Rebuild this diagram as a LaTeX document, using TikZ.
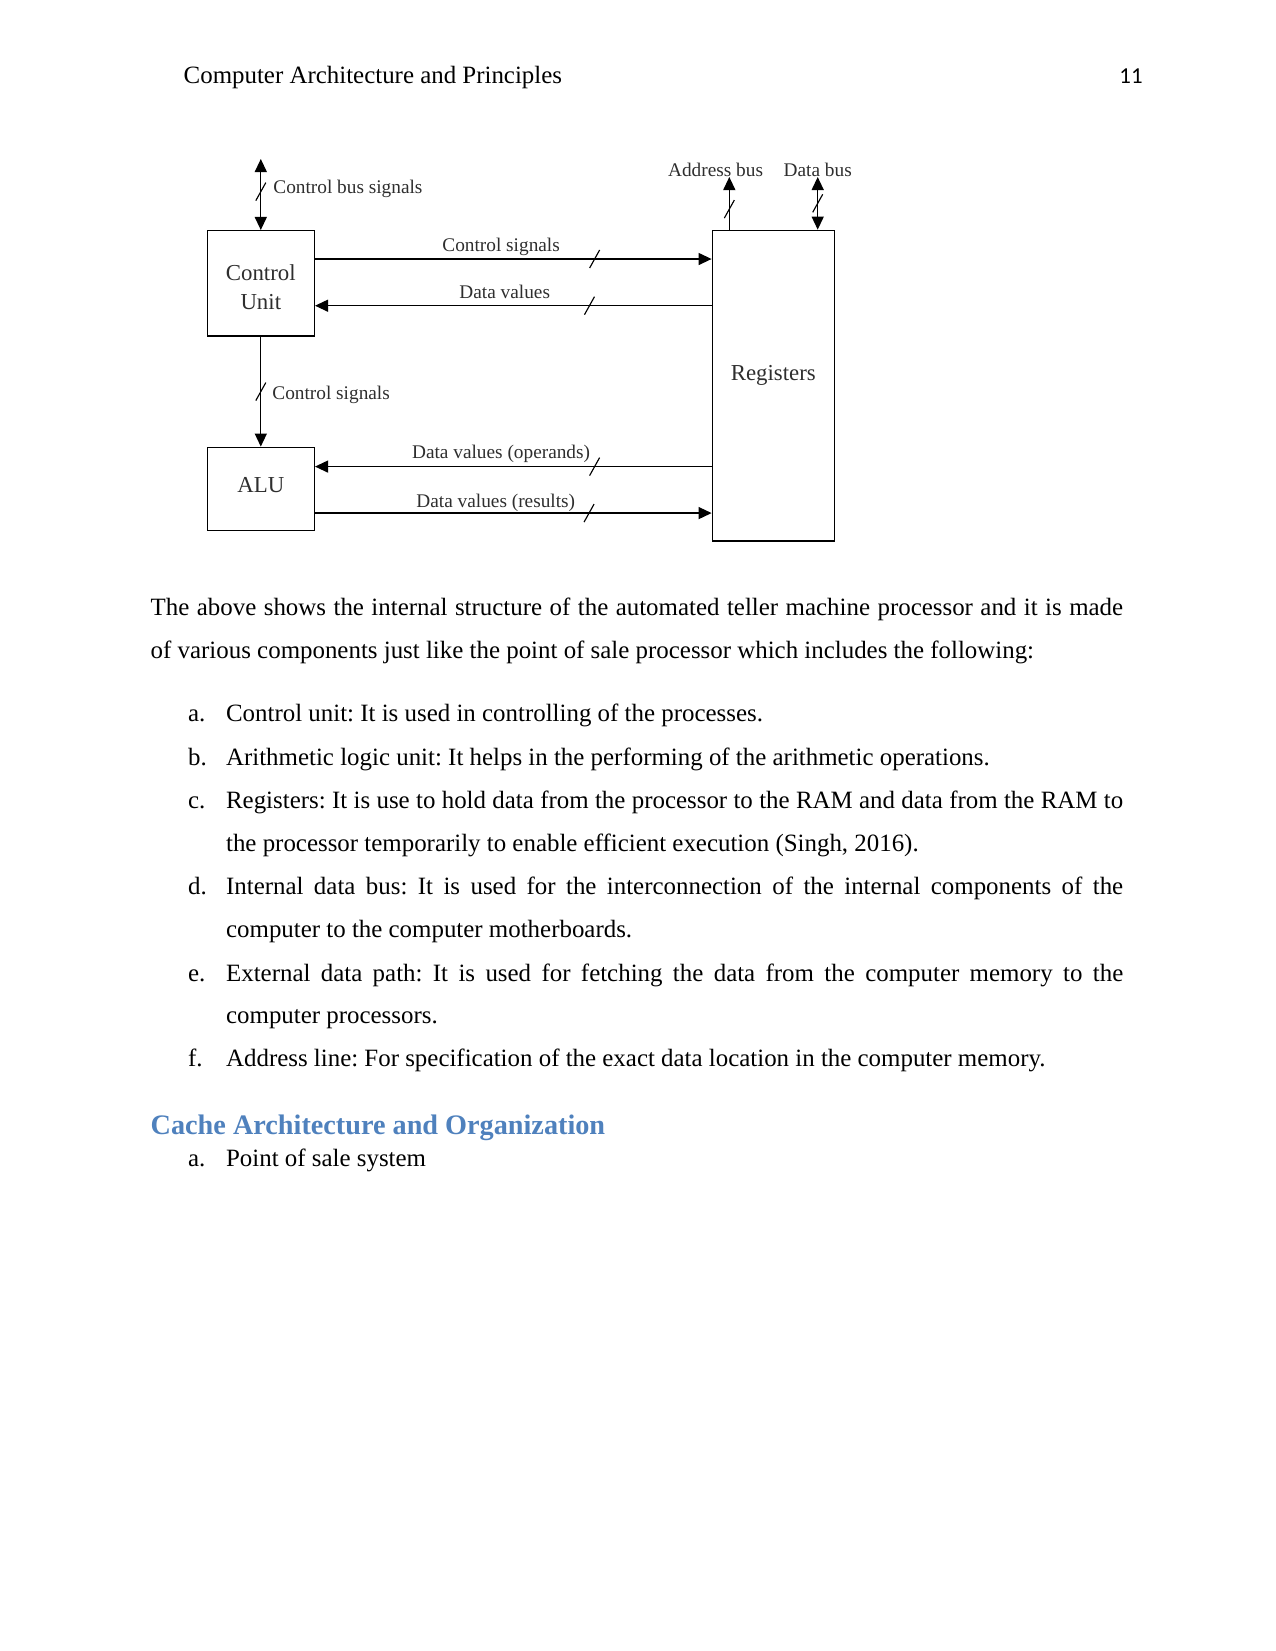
\documentclass[tikz,border=0pt]{standalone}
\usepackage{fontspec}
\setmainfont{Liberation Serif}
\newfontfamily\pagenumfont{Carlito}
\usetikzlibrary{arrows.meta}
\definecolor{headblue}{RGB}{79,129,189}
\definecolor{scangray}{gray}{0.18}
\frenchspacing
\tikzset{
  unitbox/.style={draw, line width=0.65pt, align=center, font=\fontsize{11}{13.6}\selectfont, text=scangray},
  sig/.style={line width=0.65pt, >={Triangle[length=6.3pt,width=5.8pt]}},
  sigtext/.style={anchor=base west, inner sep=0pt, font=\fontsize{9.3}{11}\selectfont, text=scangray},
  busmark/.style={line width=0.55pt},
  body/.style={anchor=base west, inner sep=0pt, align=justify, font=\fontsize{12}{20.7}\selectfont},
  itemtext/.style={body, text width=432.2pt},
  itemlabel/.style={anchor=base west, inner sep=0pt, font=\fontsize{12}{14}\selectfont}
}

\begin{document}
\begin{tikzpicture}[x=0.4818pt, y=-0.4818pt]
\useasboundingbox (0,0) rectangle (1275,1651);
% running head
\node[anchor=base west, inner sep=0pt, font=\fontsize{12}{14}\selectfont] (runhead) at (183.3,84) {Computer Architecture and Principles};
\node[anchor=base east, inner sep=0pt, font=\pagenumfont\fontsize{11}{13}\selectfont] (pagenum) at (1143,84) {11};

% the diagram
\node[unitbox, minimum width=51.6pt, minimum height=50.7pt, text height=25pt] (cu) at (260.8,283.3) {Control\\Unit};
\node[unitbox, minimum width=51.6pt, minimum height=40.2pt, text depth=4pt] (alu) at (260.8,489) {ALU};
\node[unitbox, minimum width=58.8pt, minimum height=149.7pt, text depth=12pt] (reg) at (773.3,385.7) {Registers};
\coordinate (cbus) at (260.8,159);
\coordinate (abus) at (729.3,177);
\coordinate (dbus) at (817.7,177);

\draw[sig,<->] (cu.north) -- coordinate[pos=0.54] (t1) (cbus);
\draw[sig,->] ([yshift=11.7pt]cu.east) -- coordinate[pos=0.705] (t2) ([yshift=11.7pt]cu.east -| reg.west);
\draw[sig,<-] ([yshift=-10.8pt]cu.east) -- coordinate[pos=0.692] (t3) ([yshift=-10.8pt]cu.east -| reg.west);
\draw[sig,->] (cu.south) -- coordinate[pos=0.5] (t4) (alu.north);
\draw[sig,<-] ([yshift=10.8pt]alu.east) -- coordinate[pos=0.705] (t5) ([yshift=10.8pt]alu.east -| reg.west);
\draw[sig,->] ([yshift=-11.6pt]alu.east) -- coordinate[pos=0.691] (t6) ([yshift=-11.6pt]alu.east -| reg.west);
\draw[sig,->] (abus |- reg.north) -- coordinate[pos=0.39] (t7) (abus);
\draw[sig,<->] (dbus |- reg.north) -- coordinate[pos=0.5] (t8) (dbus);
% bus width marks
\draw[busmark] (t1) +(-5,9) -- +(5,-9);
\draw[busmark] (t2) +(-5,9) -- +(5,-9);
\draw[busmark] (t3) +(-5,9) -- +(5,-9);
\draw[busmark] (t4) +(-5,9) -- +(5,-9);
\draw[busmark] (t5) +(-5,9) -- +(5,-9);
\draw[busmark] (t6) +(-5,9) -- +(5,-9);
\draw[busmark] (t7) +(-5,9) -- +(5,-9);
\draw[busmark] (t8) +(-5,9) -- +(5,-9);

\node[sigtext] (cbuslabel) at (273,194) {Control bus signals};
\node[sigtext] (ctrllabel) at (442,252) {Control signals};
\node[sigtext] (datalabel) at (459,299) {Data values};
\node[sigtext] (alulabel) at (272,400) {Control signals};
\node[sigtext] (oplabel) at (411.7,458.5) {Data values (operands)};
\node[sigtext] (reslabel) at (416,507.3) {Data values (results)};
\node[sigtext] (abuslabel) at (667.7,176.7) {Address bus};
\node[sigtext] (dbuslabel) at (783.3,176.7) {Data bus};

% text below
\node[body, text width=468.5pt] (intro) at (150.3,615.7) {The above shows the internal structure of the automated teller machine processor and it is made\linebreak of various components just like the point of sale processor which includes the following:};

\node[itemlabel] (la) at (187.7,721.7) {a.};
\node[itemtext] (ia) at (225.7,721.7) {Control unit: It is used in controlling of the processes.};
\node[itemlabel] (lb) at (187.7,765) {b.};
\node[itemtext] (ib) at (225.7,765) {Arithmetic logic unit: It helps in the performing of the arithmetic operations.};
\node[itemlabel] (lc) at (187.7,808.3) {c.};
\node[itemtext] (ic) at (225.7,808.3) {Registers: It is use to hold data from the processor to the RAM and data from the RAM to\linebreak the processor temporarily to enable efficient execution (Singh, 2016).};
\node[itemlabel] (ld) at (187.7,894.3) {d.};
\node[itemtext] (id) at (225.7,894.3) {Internal data bus: It is used for the interconnection of the internal components of the\linebreak computer to the computer motherboards.};
\node[itemlabel] (le) at (187.7,981) {e.};
\node[itemtext] (ie) at (225.7,981) {External data path: It is used for fetching the data from the computer memory to the\linebreak computer processors.};
\node[itemlabel] (lf) at (187.7,1066.7) {f.};
\node[itemtext] (if) at (225.7,1066.7) {Address line: For specification of the exact data location in the computer memory.};

\node[anchor=base west, inner sep=0pt, text=headblue, font=\bfseries\fontsize{13.6}{16}\selectfont] (cachehead) at (150.3,1134.5) {Cache Architecture and Organization};
\node[itemlabel] (lpos) at (187.7,1166.7) {a.};
\node[itemtext] (ipos) at (225.7,1166.7) {Point of sale system};
\end{tikzpicture}
\end{document}
